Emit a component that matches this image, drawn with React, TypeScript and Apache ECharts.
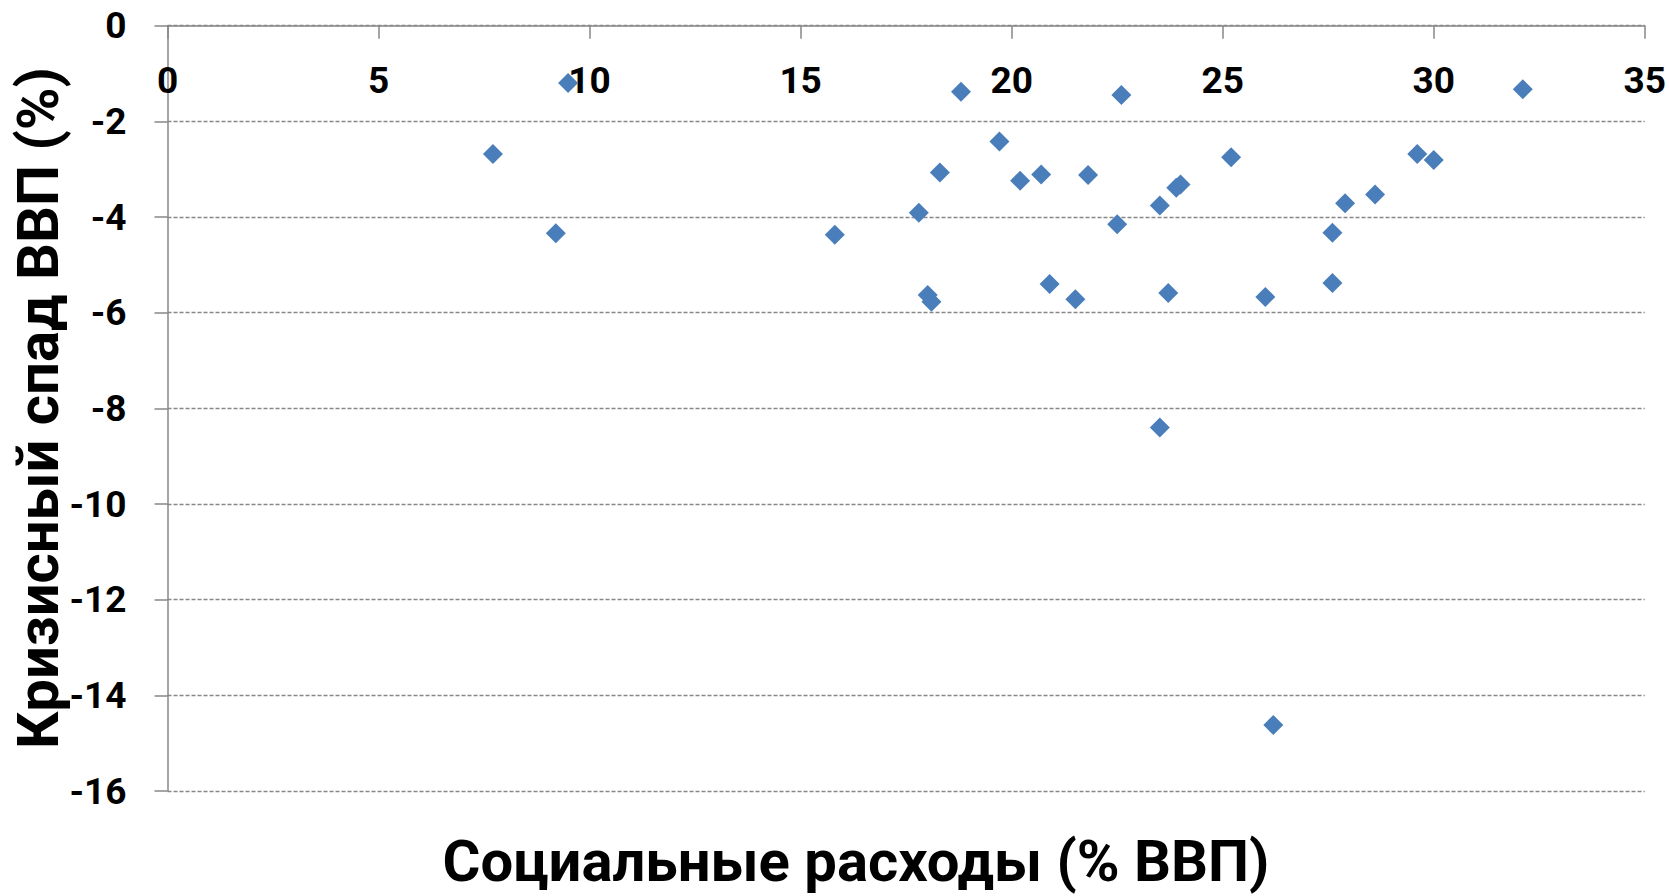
import React, { useEffect, useRef } from "react";
import * as echarts from "echarts";

// Social spending (% of GDP)
const socialSpending: number[] = [
  7.71, 9.2, 9.49, 15.81, 17.8, 18.01, 18.1, 18.3, 18.8, 19.71, 20.2, 20.7,
  20.9, 21.51, 21.81, 22.5, 22.6, 23.51, 23.51, 23.71, 23.9, 24.0, 25.2, 26.01,
  26.2, 27.6, 27.6, 27.9, 28.61, 29.61, 30.0, 32.11,
];
// Crisis GDP decline (%)
const gdpDecline: number[] = [
  -2.68, -4.34, -1.2, -4.37, -3.91, -5.63, -5.77, -3.07, -1.38, -2.42, -3.24,
  -3.11, -5.4, -5.72, -3.12, -4.15, -1.45, -3.76, -8.4, -5.59, -3.39, -3.32,
  -2.75, -5.67, -14.62, -4.33, -5.38, -3.71, -3.53, -2.68, -2.81, -1.33,
];

const xTitle = "Социальные расходы (% ВВП)";
const yTitle = "Кризисный спад ВВП (%)";

const FONT = "Roboto";
const GRAY = "#878787";

export default function App() {
  const ref = useRef<HTMLDivElement>(null);
  useEffect(() => {
    document.body.style.margin = "0";
    if (!ref.current) return;
    const chart = echarts.init(ref.current, undefined, { renderer: "svg" });
    const points = socialSpending.map((x, i) => [x, gdpDecline[i]]);
    chart.setOption({
      animation: false,
      backgroundColor: "#ffffff",
      grid: { left: 167.5, right: 23.5, top: 25.7, bottom: 105 },
      xAxis: {
        type: "value",
        min: 0,
        max: 35,
        interval: 5,
        position: "top",
        axisLine: { show: true, onZero: false, lineStyle: { color: GRAY, width: 1.5 } },
        axisTick: { show: true, inside: true, length: 13, lineStyle: { color: GRAY, width: 1.5 } },
        axisLabel: {
          inside: true,
          margin: 55,
          verticalAlign: "middle",
          color: "#000",
          fontFamily: FONT,
          fontWeight: "bold",
          fontSize: 37,
        },
        splitLine: { show: false },
      },
      yAxis: {
        type: "value",
        min: -16,
        max: 0,
        interval: 2,
        axisLine: { show: true, lineStyle: { color: GRAY, width: 1.5 } },
        axisTick: { show: true, length: 13, lineStyle: { color: GRAY, width: 1.5 } },
        axisLabel: {
          margin: 41,
          color: "#000",
          fontFamily: FONT,
          fontWeight: "bold",
          fontSize: 37,
        },
        splitLine: {
          show: true,
          lineStyle: { color: GRAY, width: 1.3, type: [4, 2] },
        },
      },
      graphic: [
        {
          type: "text",
          x: 856,
          y: 861,
          style: {
            text: xTitle,
            fill: "#000",
            font: `bold 58px ${FONT}`,
            textAlign: "center",
            textVerticalAlign: "middle",
          },
        },
        {
          type: "text",
          x: 38.3,
          y: 408,
          rotation: Math.PI / 2,
          style: {
            text: yTitle,
            fill: "#000",
            font: `bold 58px ${FONT}`,
            textAlign: "center",
            textVerticalAlign: "middle",
          },
        },
      ],
      series: [
        {
          type: "scatter",
          data: points,
          symbol: "diamond",
          symbolSize: 20,
          itemStyle: { color: "#4a7ebb", opacity: 1 },
        },
      ],
    });
    return () => chart.dispose();
  }, []);
  return <div ref={ref} style={{ width: 1669, height: 896 }} />;
}
